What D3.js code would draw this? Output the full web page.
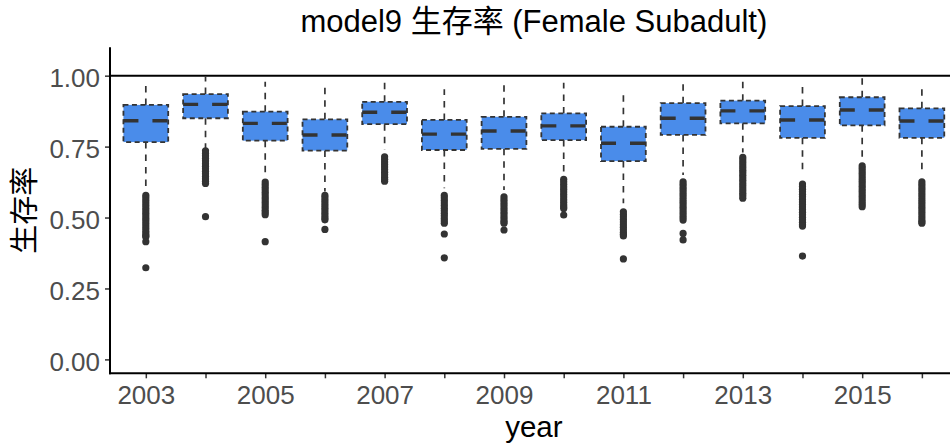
<!DOCTYPE html>
<html><head><meta charset="utf-8">
<script src="https://cdn.jsdelivr.net/npm/d3@7"></script>
<style>body{margin:0;background:#fff}svg{display:block}</style>
</head><body>
<svg id="chart" width="950" height="445"></svg>
<script>
const years = ["2003","2004","2005","2006","2007","2008","2009","2010","2011","2012","2013","2014","2015","2016"];
const whiskerLow  = [0.600,0.745,0.640,0.592,0.740,0.603,0.597,0.661,0.550,0.650,0.729,0.650,0.703,0.650];
const q1          = [0.766,0.850,0.771,0.736,0.829,0.738,0.742,0.773,0.699,0.791,0.832,0.781,0.825,0.781];
const median      = [0.841,0.899,0.832,0.791,0.871,0.794,0.805,0.823,0.762,0.850,0.876,0.844,0.879,0.840];
const q3          = [0.897,0.935,0.873,0.846,0.908,0.844,0.855,0.867,0.820,0.903,0.912,0.893,0.924,0.885];
const whiskerHigh = [0.973,0.997,0.979,0.961,0.987,0.952,0.985,0.975,0.947,0.979,0.991,0.971,0.997,0.964];
const outliers = [
  [0.578,0.569,0.560,0.551,0.542,0.533,0.524,0.515,0.506,0.497,0.488,0.479,0.470,0.461,0.452,0.443,0.436,0.432,0.415,0.323],
  [0.735,0.726,0.717,0.708,0.699,0.690,0.681,0.672,0.663,0.654,0.645,0.636,0.628,0.620,0.503],
  [0.625,0.616,0.607,0.598,0.589,0.580,0.571,0.562,0.553,0.544,0.535,0.526,0.518,0.510,0.415],
  [0.578,0.569,0.560,0.551,0.542,0.533,0.524,0.515,0.506,0.498,0.492,0.458],
  [0.714,0.705,0.696,0.687,0.678,0.669,0.660,0.651,0.642,0.635,0.628],
  [0.578,0.569,0.560,0.551,0.542,0.533,0.524,0.515,0.506,0.497,0.488,0.480,0.442,0.358],
  [0.573,0.564,0.555,0.546,0.537,0.528,0.519,0.510,0.501,0.492,0.485,0.480,0.456],
  [0.635,0.626,0.617,0.608,0.599,0.590,0.581,0.572,0.563,0.554,0.545,0.538,0.532,0.509],
  [0.520,0.511,0.502,0.493,0.484,0.475,0.466,0.457,0.448,0.441,0.435,0.354],
  [0.626,0.617,0.608,0.599,0.590,0.581,0.572,0.563,0.554,0.545,0.536,0.527,0.518,0.509,0.500,0.491,0.444,0.421],
  [0.712,0.703,0.694,0.685,0.676,0.667,0.658,0.649,0.640,0.631,0.622,0.613,0.604,0.595,0.586,0.577,0.568],
  [0.618,0.609,0.600,0.591,0.582,0.573,0.564,0.555,0.546,0.537,0.528,0.519,0.510,0.501,0.492,0.483,0.475,0.470,0.364],
  [0.682,0.673,0.664,0.655,0.646,0.637,0.628,0.619,0.610,0.601,0.592,0.583,0.574,0.565,0.556,0.547,0.538],
  [0.626,0.617,0.608,0.599,0.590,0.581,0.572,0.563,0.554,0.545,0.536,0.527,0.518,0.509,0.500,0.491,0.485,0.480]
];
const yTicks = [0, 0.25, 0.5, 0.75, 1.0];
const xLabelled = ["2003","2005","2007","2009","2011","2013","2015"];
const refLine = 1.0;
const titleText = "model9 生存率 (Female Subadult)";
const xTitle = "year";
const yTitle = "生存率";

const FONT = "'Liberation Sans', Arial, 'Noto Sans CJK SC', sans-serif";
const svg = d3.select("#chart");
const L = 110, R = 957.7, T = 47.3, B = 373.3;

const x = d3.scalePoint().domain(years).range([L, R]).padding(0.6);
const y = d3.scaleLinear().domain([-0.049, 1.1]).range([B, T]);
const bw = x.step() * 0.75;

const data = years.map((yr, i) => ({yr, lo: whiskerLow[i], q1: q1[i], med: median[i], q3: q3[i], hi: whiskerHigh[i], out: outliers[i]}));

const plot = svg.append("g");
plot.append("line").attr("x1", L).attr("x2", R).attr("y1", y(refLine)).attr("y2", y(refLine))
  .attr("stroke", "#000").attr("stroke-width", 2);

const g = plot.selectAll("g.box").data(data).join("g").attr("class", "box");
g.append("line").attr("x1", d => x(d.yr)).attr("x2", d => x(d.yr))
  .attr("y1", d => y(d.q3)).attr("y2", d => y(d.hi))
  .attr("stroke", "#333").attr("stroke-width", 1.7).attr("stroke-dasharray", "6.5,6");
g.append("line").attr("x1", d => x(d.yr)).attr("x2", d => x(d.yr))
  .attr("y1", d => y(d.q1)).attr("y2", d => y(d.lo))
  .attr("stroke", "#333").attr("stroke-width", 1.7).attr("stroke-dasharray", "6.5,6");
g.selectAll("circle").data(d => d.out.map(v => ({yr: d.yr, v}))).join("circle")
  .attr("cx", d => x(d.yr)).attr("cy", d => y(d.v)).attr("r", 3.6).attr("fill", "#333");
g.append("rect").attr("x", d => x(d.yr) - bw / 2).attr("width", bw)
  .attr("y", d => y(d.q3)).attr("height", d => y(d.q1) - y(d.q3))
  .attr("fill", "#4A8CEA").attr("stroke", "#333").attr("stroke-width", 1.8).attr("stroke-dasharray", "5,3.5");
g.append("line").attr("x1", d => x(d.yr) - bw / 2).attr("x2", d => x(d.yr) + bw / 2)
  .attr("y1", d => y(d.med)).attr("y2", d => y(d.med))
  .attr("stroke", "#333").attr("stroke-width", 3.4).attr("stroke-dasharray", "15,14");

const yAxis = d3.axisLeft(y).tickValues(yTicks).tickFormat(d3.format(".2f")).tickSize(5).tickPadding(5);
const ya = svg.append("g").attr("transform", `translate(${L},0)`).call(yAxis);
ya.select(".domain").remove();
ya.selectAll(".tick line").attr("stroke", "#333").attr("stroke-width", 1.5);
ya.selectAll(".tick text").attr("fill", "#4D4D4D").attr("font-size", 26).attr("font-family", FONT).attr("dy", "0.42em");

const xAxis = d3.axisBottom(x).tickFormat(d => xLabelled.includes(d) ? d : "").tickSize(5).tickPadding(7.5);
const xa = svg.append("g").attr("transform", `translate(0,${B})`).call(xAxis);
xa.select(".domain").remove();
xa.selectAll(".tick line").attr("stroke", "#333").attr("stroke-width", 1.5);
xa.selectAll(".tick text").attr("fill", "#4D4D4D").attr("font-size", 26).attr("font-family", FONT);

svg.append("line").attr("x1", L).attr("x2", L).attr("y1", T).attr("y2", B + 1).attr("stroke", "#000").attr("stroke-width", 2);
svg.append("line").attr("x1", L - 1).attr("x2", R + 5).attr("y1", B).attr("y2", B).attr("stroke", "#000").attr("stroke-width", 2);

svg.append("text").attr("x", (L + R) / 2).attr("y", 32).attr("text-anchor", "middle")
  .attr("font-family", FONT).attr("font-size", 31).attr("fill", "#000").text(titleText);
svg.append("text").attr("x", (L + R) / 2).attr("y", 437).attr("text-anchor", "middle")
  .attr("font-family", FONT).attr("font-size", 29.5).attr("fill", "#000").text(xTitle);
svg.append("text").attr("transform", `translate(35,${(T + B) / 2}) rotate(-90)`).attr("text-anchor", "middle")
  .attr("font-family", FONT).attr("font-size", 29).attr("fill", "#000").text(yTitle);
</script>
</body></html>
